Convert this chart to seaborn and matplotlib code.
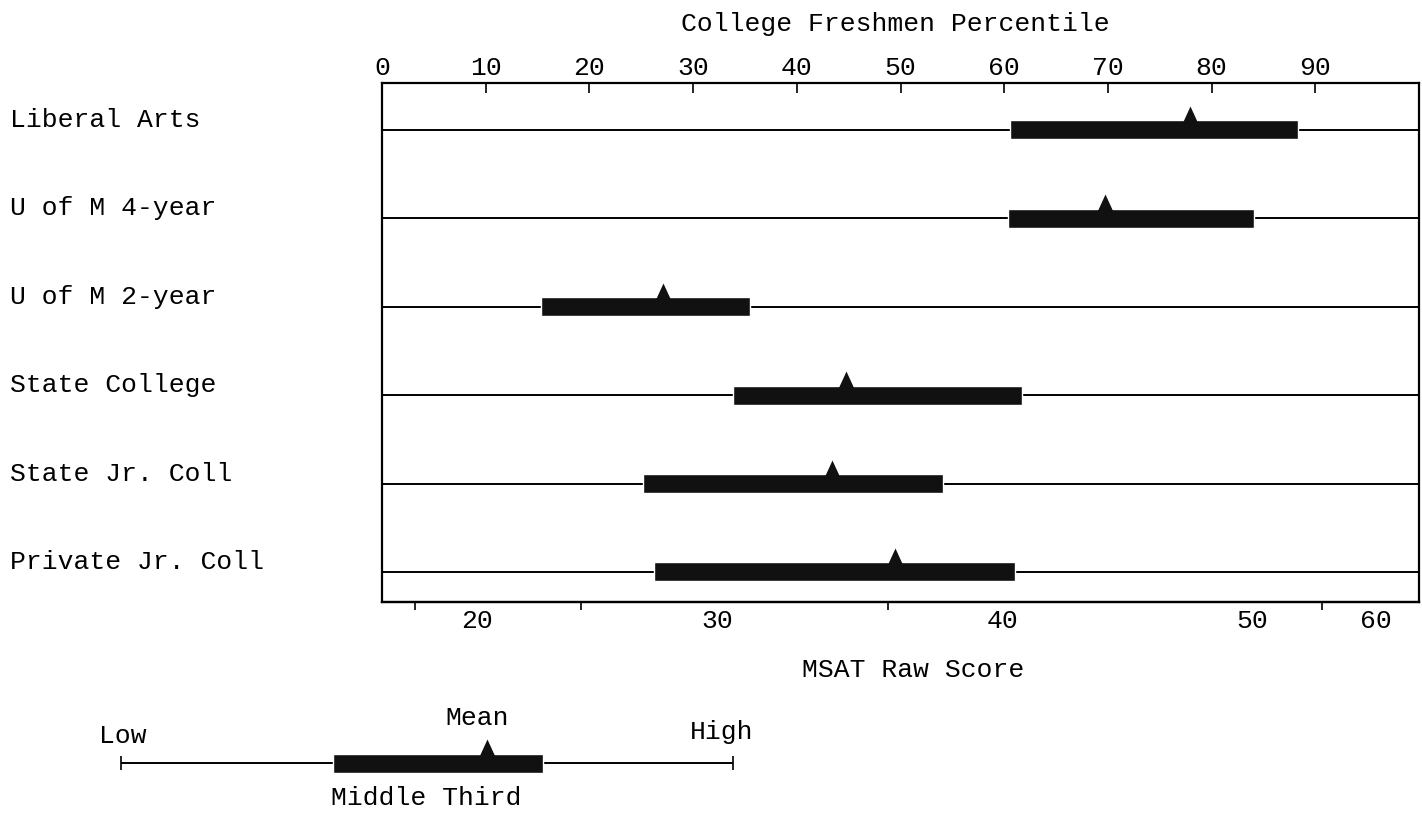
import numpy as np
import pandas as pd
import matplotlib
matplotlib.use("Agg")
import matplotlib.pyplot as plt
import matplotlib.transforms as mtransforms
from matplotlib.path import Path
import seaborn as sns

# groups, top to bottom
groups = ["Liberal Arts", "U of M 4-year", "U of M 2-year",
          "State College", "State Jr. Coll", "Private Jr. Coll"]
third_low = [60.6, 60.4, 15.3, 33.8, 25.2, 26.2]
third_high = [88.3, 84.1, 35.5, 61.7, 54.1, 61.0]
group_mean = [77.9, 69.7, 27.1, 44.7, 43.4, 49.5]

# top scale (percentile)
pct_ticks = [0, 10, 20, 30, 40, 50, 60, 70, 80, 90]
# bottom scale (MSAT raw score) placed at its percentile position
raw_labels = ["20", "30", "40", "50", "60"]
raw_label_pos = [9.2, 32.3, 59.8, 83.9, 95.8]
raw_minor_pos = [3.2, 19.2, 48.8, 90.6]

# key example
key_range = [0, 100]
key_third = [34.6, 69.0]
key_mean = 59.8

df = pd.DataFrame({"group": groups, "low": third_low, "high": third_high,
                   "mean": group_mean})
df["row"] = np.arange(len(df))

sns.set_style("white")
plt.rcParams["font.family"] = ["Liberation Mono", "DejaVu Sans Mono"]
plt.rcParams["text.color"] = "black"
plt.rcParams["xtick.color"] = "black"
plt.rcParams["xtick.labelcolor"] = "black"
FS = 19
INK = "#111111"

W, H = 1422, 815
fig = plt.figure(figsize=(W / 100, H / 100), dpi=100)
ax = fig.add_axes([382 / W, 1 - 602 / H, 1037 / W, 519 / H])

# triangle marker with its base at the point
tri = Path([(-11, 0), (11, 0), (0, 24), (-11, 0)],
           [Path.MOVETO, Path.LINETO, Path.LINETO, Path.CLOSEPOLY])
bar_h = 19 / 88.4

ax.hlines(df["row"], 0, 100, color="black", lw=1.4, zorder=1)
ax.barh(df["row"], df["high"] - df["low"], left=df["low"], height=bar_h,
        color=INK, zorder=2)
sns.scatterplot(data=df, x="mean", y="row", marker=tri, s=1194, color=INK,
                linewidth=0, ax=ax, zorder=3, legend=False)

ax.set_xlim(0, 100)
ax.set_ylim(5.34, -0.53)
ax.set_xlabel("")
ax.set_ylabel("")
ax.set_yticks([])
for s in ax.spines.values():
    s.set_color("black")
    s.set_linewidth(1.6)

ax.xaxis.tick_top()
ax.set_xticks(pct_ticks)
ax.tick_params(axis="x", top=True, bottom=False, labeltop=True,
               labelbottom=False, direction="in", length=7, width=1.2,
               pad=2, labelsize=FS, colors="black")

sec = ax.secondary_xaxis("bottom")
sec.set_xticks(raw_label_pos, labels=raw_labels)
sec.set_xticks(raw_minor_pos, minor=True)
sec.tick_params(which="major", length=0, pad=5, labelsize=FS, colors="black")
sec.tick_params(which="minor", length=6, width=1.2, direction="out",
                colors="black")
sec.spines["bottom"].set_linewidth(1.6)
sec.spines["bottom"].set_color("black")

# row labels at the left edge of the figure
lab_tr = mtransforms.blended_transform_factory(fig.transFigure, ax.transData) + \
    mtransforms.ScaledTranslation(0, 0.1, fig.dpi_scale_trans)
for g, r in zip(df["group"], df["row"]):
    ax.text(10 / W, r, g, transform=lab_tr, ha="left", va="center",
            fontsize=FS, clip_on=False)

fig.text(895 / W, 1 - 24 / H, "College Freshmen Percentile",
         ha="center", va="center", fontsize=FS)
fig.text(913 / W, 1 - 670 / H, "MSAT Raw Score",
         ha="center", va="center", fontsize=FS)

# key
kax = fig.add_axes([121 / W, 1 - 786 / H, 612 / W, 46 / H])
kax.set_xlim(0, 100)
kax.set_ylim(-1, 1)
kax.axis("off")
kax.hlines(0, key_range[0], key_range[1], color="black", lw=1.4, zorder=1)
kax.vlines(key_range, -0.3, 0.3, color="black", lw=1.2, clip_on=False)
kax.barh(0, key_third[1] - key_third[0], left=key_third[0], height=19 / 23,
         color=INK, zorder=2)
kax.scatter([key_mean], [0], marker=tri, s=1194, color=INK, linewidth=0,
            zorder=3, clip_on=False)

fig.text(123 / W, 1 - 736 / H, "Low", ha="center", va="center", fontsize=FS)
fig.text(477 / W, 1 - 718 / H, "Mean", ha="center", va="center", fontsize=FS)
fig.text(722 / W, 1 - 732 / H, "High", ha="center", va="center", fontsize=FS)
fig.text(426 / W, 1 - 798 / H, "Middle Third", ha="center", va="center",
         fontsize=FS)

fig.savefig("out.png", dpi=100)
